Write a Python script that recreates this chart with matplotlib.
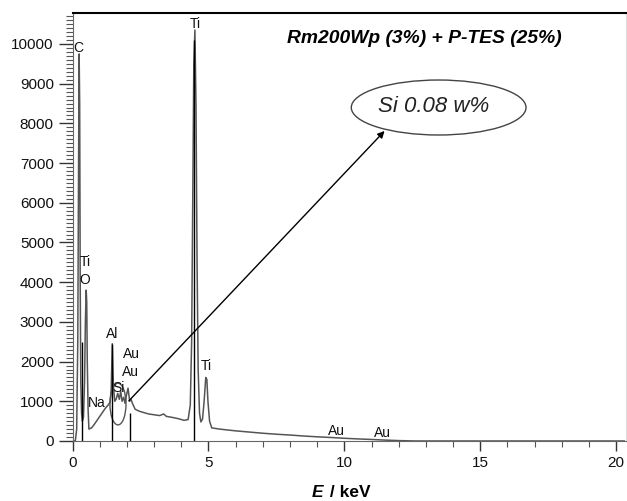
import matplotlib
matplotlib.use('Agg')
import matplotlib.pyplot as plt
from matplotlib.patches import Ellipse
from matplotlib.ticker import MultipleLocator

plt.rcParams['font.family'] = ['Liberation Sans', 'DejaVu Sans']

# EDS spectrum (energy in keV, counts)
energy = [0.00, 0.10, 0.15, 0.19, 0.22, 0.24, 0.26, 0.28, 0.30, 0.33, 0.36, 0.40,
          0.44, 0.47, 0.50, 0.52, 0.54, 0.57, 0.60, 0.70, 0.80, 0.90, 1.00, 1.10,
          1.20, 1.30, 1.38, 1.42, 1.46, 1.50, 1.55, 1.60, 1.66, 1.72, 1.77, 1.82,
          1.88, 1.93, 1.98, 2.04, 2.10, 2.15, 2.20, 2.30, 2.45, 2.60, 2.80, 3.00,
          3.20, 3.35, 3.45, 3.70, 3.90, 4.10, 4.25, 4.33, 4.38, 4.42, 4.46, 4.50,
          4.54, 4.58, 4.62, 4.67, 4.72, 4.78, 4.84, 4.90, 4.94, 4.98, 5.04, 5.12,
          5.40, 6.00, 6.50, 7.00, 7.50, 8.00, 8.50, 9.00, 9.50, 10.0, 10.5, 11.0,
          11.5, 12.0, 12.6, 20.3]
counts = [0, 0, 300, 2500, 7000, 9750, 8500, 4000, 1500, 700, 500, 600,
          1500, 3000, 3800, 3500, 2000, 800, 300, 330, 420, 520, 620, 720,
          820, 900, 980, 1300, 2450, 1400, 1000, 1050, 1200, 1050, 1250, 1000,
          1100, 950, 1150, 1330, 1000, 1050, 950, 800, 750, 720, 680, 660,
          640, 680, 620, 590, 560, 520, 540, 900, 2500, 6000, 9500, 10350,
          8500, 4500, 1800, 700, 480, 550, 1000, 1600, 1550, 1000, 500, 330,
          300, 255, 225, 195, 170, 150, 125, 105, 88, 68, 52, 38,
          22, 10, 0, 0]

# black marker lines
marker_e = [0.36, 1.46, 2.13, 4.47]
marker_c = [2500, 2450, 700, 10100]

# peak labels (text, energy, counts)
labels = [('C', 0.20, 9900), ('Ti', 4.50, 10500), ('Ti', 0.45, 4500), ('O', 0.45, 4050),
          ('Al', 1.45, 2700), ('Au', 2.18, 2200), ('Au', 2.13, 1750), ('Si', 1.68, 1330),
          ('Na', 0.88, 950), ('Ti', 4.92, 1900), ('Au', 9.70, 240), ('Au', 11.4, 200)]

title = 'Rm200Wp (3%) + P-TES (25%)'
note = 'Si 0.08 w%'

fig = plt.figure(figsize=(6.27, 5.01), dpi=100)
ax = fig.add_axes([0.1158, 0.1198, 0.882, 0.8542])

ax.plot(energy, counts, color='#555555', lw=1.1)
ax.vlines(marker_e, 0, marker_c, color='black', lw=1.0)

for txt, e, c in labels:
    ax.text(e, c, txt, ha='center', va='center', fontsize=10, color='#111111')

ax.add_patch(Ellipse((1.67, 930), 0.59, 1050, fill=False, edgecolor='#555555', lw=1.0))
ax.add_patch(Ellipse((13.47, 8400), 6.43, 1385, fill=False, edgecolor='#444444', lw=1.0))
ax.annotate('', xy=(11.55, 7860), xytext=(2.0, 960),
            arrowprops=dict(arrowstyle='-|>', color='black', lw=1.0, mutation_scale=10))
ax.text(13.3, 8420, note, ha='center', va='center', fontsize=16, style='italic', color='#222222')
ax.text(12.95, 10130, title, ha='center', va='center', fontsize=13.9, weight='bold', style='italic')

ax.set_xlim(0, 20.35)
ax.set_ylim(0, 10780)
ax.xaxis.set_major_locator(MultipleLocator(5))
ax.xaxis.set_minor_locator(MultipleLocator(1))
ax.yaxis.set_major_locator(MultipleLocator(1000))
ax.yaxis.set_minor_locator(MultipleLocator(100))
ax.tick_params(axis='y', which='major', length=10, width=1.0, pad=3.5, labelsize=11, colors='#333333', labelcolor='#111111')
ax.tick_params(axis='y', which='minor', length=5, width=0.8, colors='#555555')
ax.tick_params(axis='x', which='major', length=7, width=1.0, pad=4, labelsize=11, colors='#333333', labelcolor='#111111')
ax.tick_params(axis='x', which='minor', length=4, width=0.8, colors='#555555')

ax.spines['top'].set_linewidth(1.5)
ax.spines['top'].set_color('black')
ax.spines['right'].set_color('#dddddd')
ax.spines['left'].set_color('#666666')
ax.spines['bottom'].set_color('#666666')

# x label: italic bold E, bold unit
fig.text(0.516, 0.016, 'E', ha='right', va='center', fontsize=12.5, weight='bold', style='italic')
fig.text(0.518, 0.016, ' / keV', ha='left', va='center', fontsize=12.5, weight='bold')

fig.savefig('out.png', dpi=100)
